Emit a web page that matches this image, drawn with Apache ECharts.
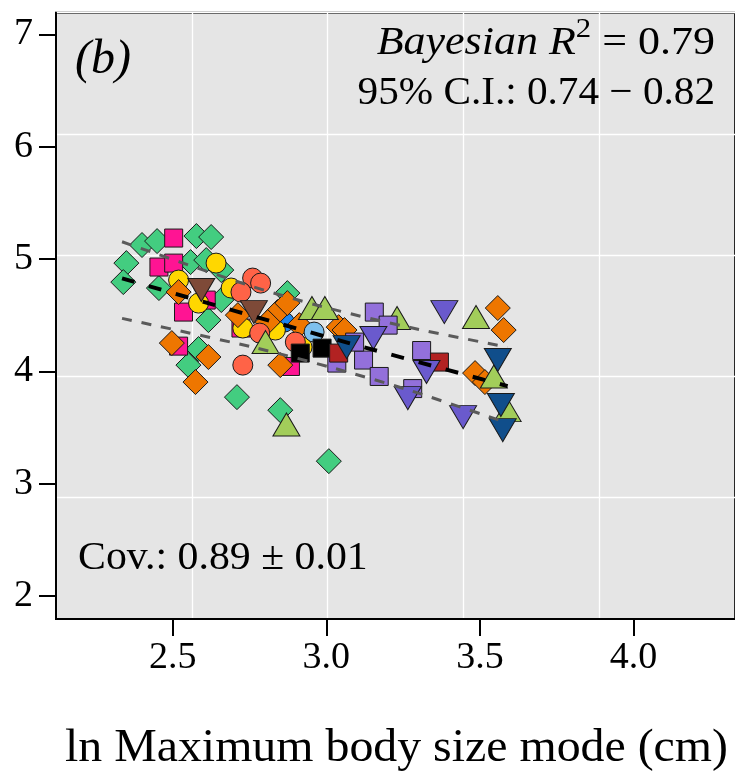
<!DOCTYPE html>
<html>
<head>
<meta charset="utf-8">
<script src="https://cdn.jsdelivr.net/npm/echarts@6/dist/echarts.min.js"></script>
<style>
  html, body { margin: 0; padding: 0; background: #ffffff; }
  #chart { width: 735px; height: 777px; }
</style>
</head>
<body>
<div id="chart"></div>
<script>
// ---------------- data ----------------
const xTicks = [2.5, 3.0, 3.5, 4.0];
const yTicks = [2, 3, 4, 5, 6, 7];

const greenDiamonds = [[2.349,4.963],[2.400,5.124],[2.449,5.159],[2.577,5.204],[2.625,5.195],[2.339,4.794],[2.455,4.741],[2.558,4.972],[2.609,4.990],[2.658,4.901],[2.616,4.456],[2.658,4.634],[2.584,4.198],[2.551,4.055],[2.709,3.770],[2.850,3.654],[3.008,3.200],[2.873,4.696]];
const pinkSquares = [[2.503,5.186],[2.455,4.928],[2.503,4.963],[2.609,4.634],[2.535,4.527],[2.519,4.224],[2.722,4.385],[2.883,4.043]];
const yellowCircles = [[2.641,4.963],[2.519,4.812],[2.584,4.607],[2.690,4.741],[2.728,4.385],[2.834,4.367],[2.921,4.215]];
const orangeDiamonds = [[2.519,4.705],[2.497,4.251],[2.616,4.127],[2.574,3.904],[2.841,4.527],[2.873,4.607],[2.809,4.438],[2.912,4.411],[3.040,4.393],[3.059,4.367],[2.850,4.055],[3.558,4.563],[3.577,4.367],[3.484,3.984],[3.516,3.904],[2.712,4.500]];
const tomatoCircles = [[2.760,4.830],[2.786,4.785],[2.722,4.705],[2.783,4.340],[2.728,4.055],[2.899,4.260]];
const brownTriangles = [[2.593,4.723],[2.764,4.527]];
const oliveTriangles = [[2.953,4.563],[2.995,4.563],[3.230,4.474],[3.487,4.483],[3.545,3.954],[3.590,3.654],[2.802,4.260],[2.870,3.526]];
const skyCircles = [[2.960,4.349]];
const dodgerCircles = [[2.863,4.438]];
const blackSquares = [[2.915,4.162],[2.986,4.206]];
const purpleSquares = [[3.156,4.527],[3.201,4.411],[3.121,4.100],[3.172,3.954],[3.034,4.073],[3.310,4.185],[3.281,3.846],[3.092,4.260]];
const firebrickSquares = [[3.040,4.162],[3.368,4.082]];
const slateTriangles = [[3.153,4.296],[3.384,4.527],[3.326,3.993],[3.265,3.761],[3.445,3.592]];
const navyTriangles = [[3.066,4.215],[3.558,4.100],[3.568,3.700],[3.574,3.476]];

const meanX = [2.335, 3.002, 3.590];
const meanY = [4.827, 4.305, 3.868];
const upperX = [2.335, 2.744, 2.992, 3.265, 3.590];
const upperY = [5.153, 4.768, 4.572, 4.394, 4.215];
const lowerX = [2.335, 2.760, 3.024, 3.268, 3.590];
const lowerY = [4.471, 4.215, 4.028, 3.833, 3.539];

// ---------------- chart ----------------
const FONT = 'Liberation Serif';
const chart = echarts.init(document.getElementById('chart'), null, { renderer: 'canvas' });

function pts(type, data, color, size, rotate, z) {
  return {
    type: 'scatter', data: data, symbol: type, symbolSize: size, symbolRotate: rotate || 0,
    xAxisIndex: 0, yAxisIndex: 0, z: z,
    itemStyle: { color: color, borderColor: '#1a1a1a', borderWidth: 1, opacity: 1 },
    emphasis: { disabled: true }, silent: true, animation: false
  };
}
function zip(xs, ys) { return xs.map((x, i) => [x, ys[i]]); }

const option = {
  animation: false,
  backgroundColor: '#ffffff',
  grid: {
    left: 56, top: 12.7, width: 687, height: 606.3,
    show: true, backgroundColor: '#E5E5E5', borderColor: '#000', borderWidth: 2
  },
  xAxis: [
    {
      type: 'value', min: 2.12, max: 4.33, position: 'bottom',
      splitLine: { show: false },
      axisLine: { show: true, onZero: false, lineStyle: { color: '#000', width: 2 } },
      axisTick: { show: true, length: 17, customValues: xTicks, lineStyle: { color: '#000', width: 2 } },
      axisLabel: { customValues: xTicks, formatter: v => Number(v).toFixed(1), fontSize: 38, fontFamily: FONT, color: '#000', margin: 20 }
    },
    {
      type: 'value', min: 0, max: 5, interval: 1, position: 'top',
      axisLine: { show: false }, axisTick: { show: false }, axisLabel: { show: false },
      splitLine: { show: true, lineStyle: { color: '#ffffff', width: 1.3 } }
    }
  ],
  yAxis: [
    {
      type: 'value', min: 1.795, max: 7.192, position: 'left',
      splitLine: { show: false },
      axisLine: { show: true, onZero: false, lineStyle: { color: '#000', width: 2 } },
      axisTick: { show: true, length: 17, customValues: yTicks, lineStyle: { color: '#000', width: 2 } },
      axisLabel: { customValues: yTicks, formatter: v => String(Math.round(v)), fontSize: 38, fontFamily: FONT, color: '#000', margin: 23 }
    },
    {
      type: 'value', min: 0, max: 5, interval: 1, position: 'right',
      axisLine: { show: false }, axisTick: { show: false }, axisLabel: { show: false },
      splitLine: { show: true, lineStyle: { color: '#ffffff', width: 1.3 } }
    }
  ],
  series: [
    pts('circle', dodgerCircles, '#1C86EE', 20, 0, 2),
    pts('diamond', greenDiamonds, '#43CD80', 25, 0, 2),
    pts('rect', pinkSquares, '#FF1493', 18, 0, 2),
    pts('circle', yellowCircles, '#FFD700', 20, 0, 2),
    pts('diamond', orangeDiamonds, '#EE7600', 25, 0, 2),
    pts('circle', tomatoCircles, '#FF6347', 20, 0, 2),
    pts('triangle', brownTriangles, '#7E4A38', [27, 23], 180, 2),
    pts('triangle', oliveTriangles, '#A2CD5A', [27, 23], 0, 2),
    pts('circle', skyCircles, '#7EC0EE', 20, 0, 2),
    pts('rect', purpleSquares, '#9370DB', 18, 0, 2),
    pts('rect', blackSquares, '#000000', 18, 0, 2),
    pts('rect', firebrickSquares, '#B22222', 18, 0, 2),
    pts('triangle', slateTriangles, '#6A5ACD', [27, 23], 180, 2),
    pts('triangle', navyTriangles, '#104E8B', [27, 23], 180, 2),
    {
      type: 'line', data: zip(upperX, upperY), smooth: 0.3, symbol: 'none', z: 5,
      xAxisIndex: 0, yAxisIndex: 0, silent: true,
      lineStyle: { color: '#5a5a5a', width: 3, type: [10, 10] }
    },
    {
      type: 'line', data: zip(lowerX, lowerY), smooth: 0.3, symbol: 'none', z: 5,
      xAxisIndex: 0, yAxisIndex: 0, silent: true,
      lineStyle: { color: '#5a5a5a', width: 3, type: [10, 10] }
    },
    {
      type: 'line', data: zip(meanX, meanY), smooth: 0.3, symbol: 'none', z: 6,
      xAxisIndex: 0, yAxisIndex: 0, silent: true,
      lineStyle: { color: '#000000', width: 4, type: [13, 15] }
    }
  ],
  graphic: [
    {
      type: 'text', x: 75, y: 60, z: 100,
      style: { text: '(b)', fontSize: 48, fontFamily: FONT, fontStyle: 'italic', fill: '#000',
               align: 'left', verticalAlign: 'middle', textAlign: 'left', textVerticalAlign: 'middle' }
    },
    {
      type: 'text', x: 715, y: 43.5, scaleX: 1.1, z: 100,
      style: {
        text: '{i|Bayesian R}{s|2}{n| = 0.79}',
        rich: {
          i: { fontSize: 40, lineHeight: 56, fontFamily: FONT, fontStyle: 'italic', fill: '#000', verticalAlign: 'middle' },
          s: { fontSize: 28, lineHeight: 28, fontFamily: FONT, fill: '#000', verticalAlign: 'top' },
          n: { fontSize: 40, lineHeight: 56, fontFamily: FONT, fill: '#000', verticalAlign: 'middle' }
        },
        fontSize: 40, fontFamily: FONT, fill: '#000',
        align: 'right', verticalAlign: 'middle', textAlign: 'right', textVerticalAlign: 'middle'
      }
    },
    {
      type: 'text', x: 715, y: 93.5, scaleX: 1.03, z: 100,
      style: { text: '95% C.I.: 0.74 \u2212 0.82', fontSize: 40, fontFamily: FONT, fill: '#000',
               align: 'right', verticalAlign: 'middle', textAlign: 'right', textVerticalAlign: 'middle' }
    },
    {
      type: 'text', x: 78, y: 558.5, scaleX: 1.02, z: 100,
      style: { text: 'Cov.: 0.89 \u00B1 0.01', fontSize: 41, fontFamily: FONT, fill: '#000',
               align: 'left', verticalAlign: 'middle', textAlign: 'left', textVerticalAlign: 'middle' }
    },
    {
      type: 'text', x: 65, y: 749.4, scaleX: 1.04, z: 100,
      style: { text: 'ln Maximum body size mode (cm)', fontSize: 46, fontFamily: FONT, fill: '#000',
               align: 'left', verticalAlign: 'middle', textAlign: 'left', textVerticalAlign: 'middle' }
    }
  ]
};
chart.setOption(option);
</script>
</body>
</html>
